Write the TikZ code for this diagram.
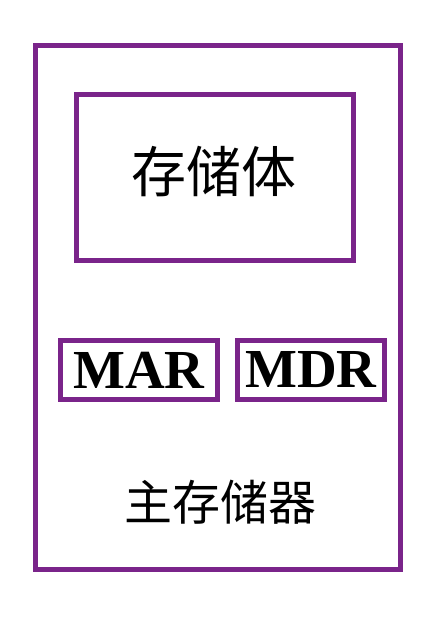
\documentclass[tikz,border=0pt]{standalone}
\usepackage{fontspec}
\setmainfont{Liberation Serif}
\newfontfamily\cjk{Noto Sans CJK SC}
\usepackage{tikz}
\usetikzlibrary{positioning}
\definecolor{memviolet}{RGB}{122,36,138}

\begin{document}
\begin{tikzpicture}[x=1pt, y=-1pt,
        frame/.style={rectangle, draw=memviolet, line width=5pt, inner sep=0pt},
        reg/.style={frame, line width=4.5pt, minimum height=59pt, font=\fontsize{55}{55}\selectfont\bfseries},
        caption/.style={inner sep=0pt, font=\cjk}]

        \useasboundingbox (0,0) rectangle (426,618);

        % outer frame and memory bank
        \node[frame, minimum width=364.5pt, minimum height=523.5pt] (mainmem) at (217.75,307.75) {};
        \node[frame, minimum width=277pt, minimum height=166pt] (bank) at (214.5,177) {};
        \node[caption, font=\cjk\fontsize{55}{55}\selectfont] (banktext) at (214,172) {存储体};

        % registers
        \node[reg, minimum width=157pt] (mar) at (139,370) {MAR};
        \node[reg, minimum width=147pt] (mdr) at (311,370) {MDR};

        \node[caption, font=\cjk\fontsize{48}{48}\selectfont] (maintext) at (220.5,502.5) {主存储器};

    \end{tikzpicture}
\end{document}
